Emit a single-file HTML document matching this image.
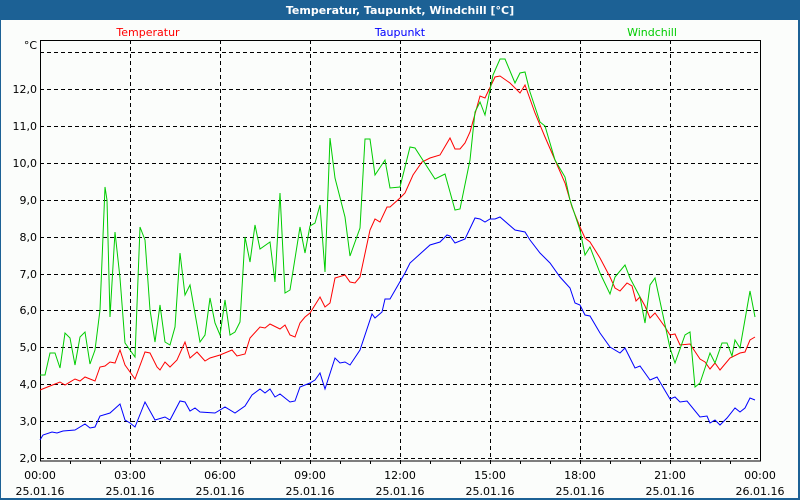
<!DOCTYPE html>
<html><head><meta charset="utf-8"><style>
html,body{margin:0;padding:0;background:#fff}
svg{display:block}
text{font-family:"DejaVu Sans","Liberation Sans",sans-serif;font-size:11px}
</style></head><body>
<svg width="800" height="500" xmlns="http://www.w3.org/2000/svg">
<rect x="0" y="0" width="800" height="500" fill="#1c6195"/>
<rect x="1" y="20" width="797" height="478" fill="#fbfdfb"/>
<text x="400" y="14" fill="#fff" font-weight="bold" text-anchor="middle" font-size="12">Temperatur, Taupunkt, Windchill [°C]</text>
<text x="148" y="36" fill="#f00" text-anchor="middle">Temperatur</text>
<text x="400" y="36" fill="#00f" text-anchor="middle">Taupunkt</text>
<text x="652" y="36" fill="#0c0" text-anchor="middle">Windchill</text>
<g stroke="#000" stroke-dasharray="4,3" stroke-width="1">
<path d="M40 458.5H760M40 421.5H760M40 384.5H760M40 347.5H760M40 310.5H760M40 274.5H760M40 237.5H760M40 200.5H760M40 163.5H760M40 126.5H760M40 89.5H760M40 52.5H760"/>
<path d="M130.5 40V461M220.5 40V461M310.5 40V461M400.5 40V461M490.5 40V461M580.5 40V461M670.5 40V461"/>
</g>
<rect x="40.5" y="40.5" width="720" height="420.5" fill="none" stroke="#000"/>
<g stroke="#000"><path d="M70.5 461v3M100.5 461v3M130.5 461v3M160.5 461v3M190.5 461v3M220.5 461v3M250.5 461v3M280.5 461v3M310.5 461v3M340.5 461v3M370.5 461v3M400.5 461v3M430.5 461v3M460.5 461v3M490.5 461v3M520.5 461v3M550.5 461v3M580.5 461v3M610.5 461v3M640.5 461v3M670.5 461v3M700.5 461v3M730.5 461v3"/></g>
<g text-anchor="end" fill="#000">
<text x="37" y="49">°C</text>
<text x="37" y="93">12,0</text><text x="37" y="130">11,0</text><text x="37" y="167">10,0</text>
<text x="37" y="204">9,0</text><text x="37" y="241">8,0</text><text x="37" y="278">7,0</text>
<text x="37" y="314">6,0</text><text x="37" y="351">5,0</text><text x="37" y="388">4,0</text>
<text x="37" y="425">3,0</text><text x="37" y="462">2,0</text>
</g>
<g text-anchor="middle" fill="#000">
<text x="40" y="479">00:00</text><text x="40" y="495">25.01.16</text>
<text x="130" y="479">03:00</text><text x="130" y="495">25.01.16</text>
<text x="220" y="479">06:00</text><text x="220" y="495">25.01.16</text>
<text x="310" y="479">09:00</text><text x="310" y="495">25.01.16</text>
<text x="400" y="479">12:00</text><text x="400" y="495">25.01.16</text>
<text x="490" y="479">15:00</text><text x="490" y="495">25.01.16</text>
<text x="580" y="479">18:00</text><text x="580" y="495">25.01.16</text>
<text x="670" y="479">21:00</text><text x="670" y="495">25.01.16</text>
<text x="760" y="479">00:00</text><text x="760" y="495">26.01.16</text>
</g>
<g fill="none" stroke-width="1">
<polyline stroke="#00f" points="40,440 43,435 52,432 57,433 63,431 75,430 85,424 90,428 95,427 100,416 110,413 120,404 125,420 130,423 135,427 145,402 155,420 165,417 170,420 180,401 185,402 190,411 195,408 200,412 215,413 225,407 235,413 245,406 252,395 260,389 265,393 270,389 275,397 280,394 290,402 295,401 300,387 310,383 315,380 320,373 325,389 335,358 340,363 345,362 350,365 360,350 372,314 375,318 382,312 385,299 390,299 405,273 410,263 420,254 430,245 440,242 447,235 450,236 455,243 465,239 475,218 480,219 485,222 490,219 495,219 500,217 515,230 525,232 530,240 540,253 550,263 560,277 570,288 575,303 580,305 585,315 590,316 600,333 610,347 620,353 625,348 635,368 640,366 650,380 657,377 670,399 675,397 680,402 687,401 700,417 707,416 710,423 715,420 720,425 727,418 735,408 740,412 745,408 750,398 755,400"/>
<polyline stroke="#f00" points="40,390 50,386 60,382 65,385 75,379 80,381 85,377 95,381 100,367 105,366 110,362 115,363 120,350 125,365 135,379 145,352 150,353 157,367 160,370 165,362 170,367 177,360 185,342 190,358 197,352 205,361 210,358 220,355 232,350 237,356 245,354 250,338 260,327 265,328 270,324 280,329 285,325 290,335 295,337 300,323 305,317 310,313 320,297 325,307 330,303 335,278 345,275 350,282 355,283 360,277 370,230 375,219 380,222 387,207 390,207 400,198 405,193 413,175 422,162 430,158 440,155 450,138 455,149 460,149 465,143 470,132 480,96 485,98 495,77 500,76 510,83 520,93 525,85 535,113 545,137 555,160 565,183 572,207 580,227 585,238 590,242 600,258 610,277 615,288 620,291 627,283 632,286 636,301 640,297 645,306 650,318 655,313 665,327 670,335 675,334 680,345 690,344 700,359 705,362 710,369 715,363 720,370 730,358 740,353 745,352 750,340 755,337"/>
<polyline stroke="#0c0" points="40,375 45,375 50,353 55,353 60,368 65,333 70,338 75,365 80,337 85,332 90,364 95,350 100,310 105,187 107,200 110,317 115,232 120,278 125,343 135,357 140,227 145,240 150,310 155,342 160,305 165,342 170,345 175,327 180,253 185,295 190,285 200,342 205,335 210,298 215,323 220,335 225,300 230,335 235,332 240,322 245,237 250,262 255,225 260,249 270,242 275,282 280,193 285,293 290,290 300,227 305,253 310,226 315,223 320,205 325,272 330,138 335,178 345,217 350,256 360,228 365,139 370,139 375,175 385,160 390,188 400,187 410,147 415,148 435,179 445,174 455,210 460,209 470,160 475,112 480,102 485,115 493,75 500,59 505,59 515,83 520,73 525,72 530,92 540,122 545,126 555,160 565,177 570,200 580,230 585,255 590,247 600,273 610,294 615,277 625,265 630,278 640,297 645,323 650,285 655,278 670,348 675,363 685,335 690,332 695,387 700,383 710,353 715,363 722,343 727,343 732,356 735,340 740,348 750,291 755,317"/>
</g>
</svg>
</body></html>
